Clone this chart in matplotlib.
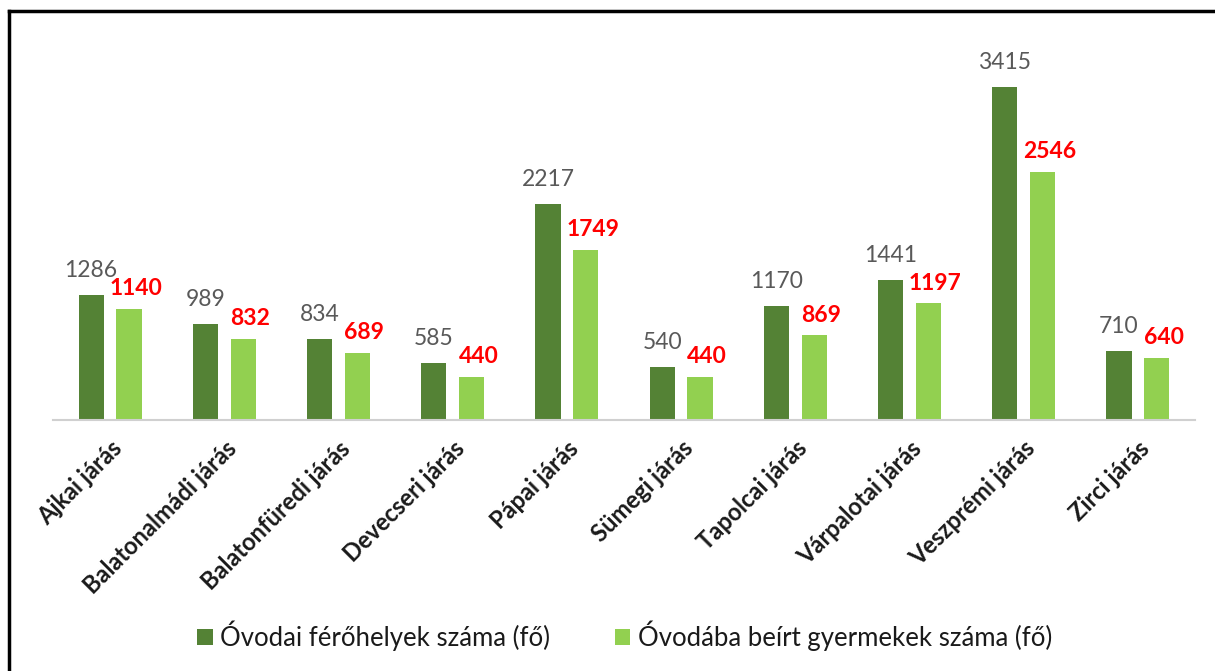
import matplotlib.pyplot as plt
import numpy as np
from matplotlib.lines import Line2D

plt.rcParams['font.family'] = ['Lato', 'DejaVu Sans']

# districts and values
jarasok = ['Ajkai járás', 'Balatonalmádi járás', 'Balatonfüredi járás', 'Devecseri járás',
           'Pápai járás', 'Sümegi járás', 'Tapolcai járás', 'Várpalotai járás',
           'Veszprémi járás', 'Zirci járás']
ferohely = [1286, 989, 834, 585, 2217, 540, 1170, 1441, 3415, 710]
beirt = [1140, 832, 689, 440, 1749, 440, 869, 1197, 2546, 640]

dark_green = '#548235'
light_green = '#92d050'

fig = plt.figure(figsize=(12.15, 6.71), dpi=100)
ax = fig.add_axes([53 / 1215, 1 - 420 / 671, (1195 - 53) / 1215, 380 / 671])

x = np.arange(len(jarasok))
w = 0.22
off = 0.166
b1 = ax.bar(x - off, ferohely, w, color=dark_green, label='Óvodai férőhelyek száma (fő)')
b2 = ax.bar(x + off, beirt, w, color=light_green, label='Óvodába beírt gyermekek száma (fő)')

for xi, v in zip(x, ferohely):
    ax.annotate(str(v), (xi - off, v), xytext=(0, 10), textcoords='offset points',
                ha='center', va='bottom', fontsize=16.5, color='#595959')
for xi, v in zip(x, beirt):
    ax.annotate(str(v), (xi + off + 0.06, v), xytext=(0, 7), textcoords='offset points',
                ha='center', va='bottom', fontsize=16.5, color='#ff0000', fontweight='bold')

ax.set_xlim(-0.5, len(jarasok) - 0.5)
ax.set_ylim(0, 3900)
ax.set_xticks(x)
ax.set_xticklabels(jarasok, rotation=45, ha='right', rotation_mode='anchor',
                   fontsize=17, fontweight='bold', color='#1a1a1a')
ax.tick_params(axis='x', length=0, pad=12)
ax.set_yticks([])
for s in ['top', 'right', 'left']:
    ax.spines[s].set_visible(False)
ax.spines['bottom'].set_color('#d0d0d0')
ax.spines['bottom'].set_linewidth(1.5)

fig.legend(handles=[b1, b2], loc='center', bbox_to_anchor=(0.514, 1 - 636 / 671), ncol=2,
           frameon=False, fontsize=18.5, handlelength=0.6, handleheight=0.6,
           handletextpad=0.3, columnspacing=2.5, labelcolor='#1a1a1a')

# frame lines (top and left)
fig.add_artist(Line2D([9 / 1215, 1], [1 - 11 / 671, 1 - 11 / 671], color='black', lw=2.5,
                      transform=fig.transFigure))
fig.add_artist(Line2D([9 / 1215, 9 / 1215], [0, 1 - 11 / 671], color='black', lw=2.5,
                      transform=fig.transFigure))

fig.savefig('out.png', dpi=100)
